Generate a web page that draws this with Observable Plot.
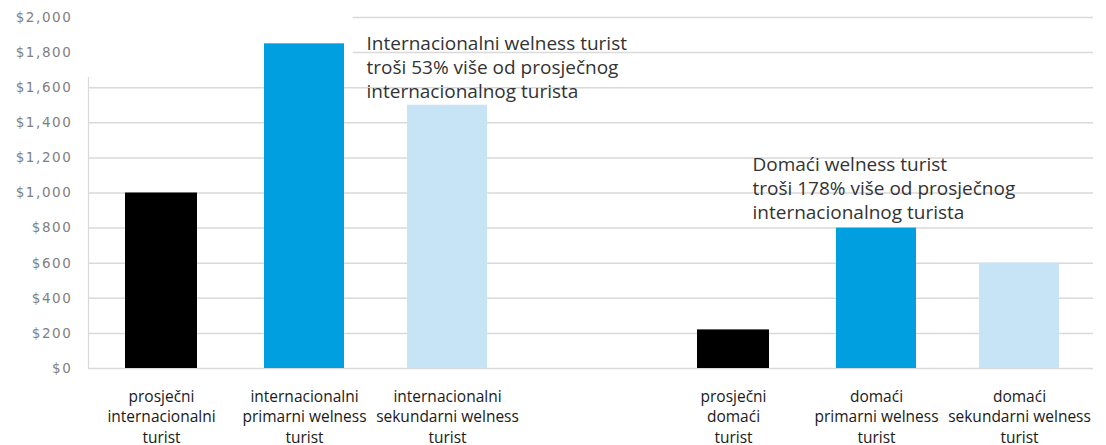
<!DOCTYPE html>
<html>
<head>
<meta charset="utf-8">
<script src="https://cdn.jsdelivr.net/npm/d3@7"></script>
<script src="https://cdn.jsdelivr.net/npm/@observablehq/plot@0.6"></script>
<style>
  html, body { margin: 0; padding: 0; background: #ffffff; }
  #chart { width: 1106px; height: 445px; overflow: hidden; }
  g[font-family="DejaVu Sans"] { letter-spacing: 1.6px; }
</style>
</head>
<body>
<div id="chart"></div>
<script>
// ---- data ----
const labels = [
  "prosječni\ninternacionalni\nturist",
  "internacionalni\nprimarni welness\nturist",
  "internacionalni\nsekundarni welness\nturist",
  "prosječni\ndomaći\nturist",
  "domaći\nprimarni welness\nturist",
  "domaći\nsekundarni welness\nturist"
];
const values = [1000, 1850, 1500, 220, 800, 600];
const kinds = ["avg", "primary", "secondary", "avg", "primary", "secondary"];
const gapLabel = "";
const xDomain = [labels[0], labels[1], labels[2], gapLabel, labels[3], labels[4], labels[5]];
const yTicks = [0, 200, 400, 600, 800, 1000, 1200, 1400, 1600, 1800, 2000];

const annotationTexts = [
  "Internacionalni welness turist\ntroši 53% više od prosječnog\ninternacionalnog turista",
  "Domaći welness turist\ntroši 178% više od prosječnog\ninternacionalnog turista"
];
const annotationAnchors = [labels[2], labels[3]];
const annotationY = [1910, 1222];

const colors = { avg: "#000000", primary: "#009fe0", secondary: "#c6e4f6" };

const data = labels.map((l, i) => ({ label: l, value: values[i], kind: kinds[i] }));
const ann = annotationTexts.map((t, i) => ({ text: t, x: annotationAnchors[i], y: annotationY[i] }));

const chart = Plot.plot({
  width: 1106,
  height: 445,
  marginLeft: 88,
  marginRight: 13,
  marginTop: 17,
  marginBottom: 77,
  style: { fontFamily: "'Open Sans', sans-serif", background: "#ffffff", color: "#333" },
  x: { domain: xDomain, paddingInner: 0.44, paddingOuter: 0.22, axis: null },
  y: { domain: [0, 2000], axis: null },
  marks: [
    Plot.ruleY(yTicks, { stroke: "#d9d9d9", strokeWidth: 1.5 }),
    Plot.frame({ anchor: "left", stroke: "#d9d9d9", strokeWidth: 1.2 }),
    Plot.barY(data.filter(d => d.kind !== "avg"), {
      x: "label", y: "value", fill: d => colors[d.kind]
    }),
    Plot.barY(data.filter(d => d.kind === "avg"), {
      x: "label", y: "value", fill: d => colors[d.kind], insetLeft: 4, insetRight: 4
    }),
    // y tick labels
    Plot.text(yTicks, {
      y: d => d, text: d3.format("$,"), frameAnchor: "left", textAnchor: "end", dx: -16,
      fontFamily: "DejaVu Sans", fontSize: 13.5, fill: "#7f7f7f"
    }),
    // x tick labels
    Plot.text(labels, {
      x: d => d, text: d => d, frameAnchor: "bottom", lineAnchor: "top", dy: 19,
      fontSize: 15.5, lineHeight: 1.32, fill: "#1a1a1a"
    }),
    Plot.text(ann.slice(0, 1), {
      x: "x", y: "y", text: "text", textAnchor: "start", lineAnchor: "top",
      dx: -81, fontSize: 19, lineHeight: 1.26, fill: "#333333"
    }),
    Plot.text(ann.slice(1, 2), {
      x: "x", y: "y", text: "text", textAnchor: "start", lineAnchor: "top",
      dx: 19, fontSize: 19, lineHeight: 1.26, fill: "#333333"
    })
  ]
});

document.getElementById("chart").appendChild(chart);

// white boxes behind the annotation texts (sized from the rendered text)
const svg = chart.tagName.toLowerCase() === "svg" ? chart : chart.querySelector("svg");
const firstBar = svg.querySelector('g[aria-label="bar"]');
const textGroups = svg.querySelectorAll('g[aria-label="text"]');
[textGroups[textGroups.length - 2], textGroups[textGroups.length - 1]].forEach(g => {
  const t = g.querySelector("text");
  const b = t.getBBox();
  const r = document.createElementNS("http://www.w3.org/2000/svg", "rect");
  r.setAttribute("x", b.x - 21);
  r.setAttribute("y", b.y);
  r.setAttribute("width", b.width + 21 + 90);
  r.setAttribute("height", b.height + 6);
  r.setAttribute("fill", "#ffffff");
  firstBar.parentNode.insertBefore(r, firstBar);
});
</script>
</body>
</html>
